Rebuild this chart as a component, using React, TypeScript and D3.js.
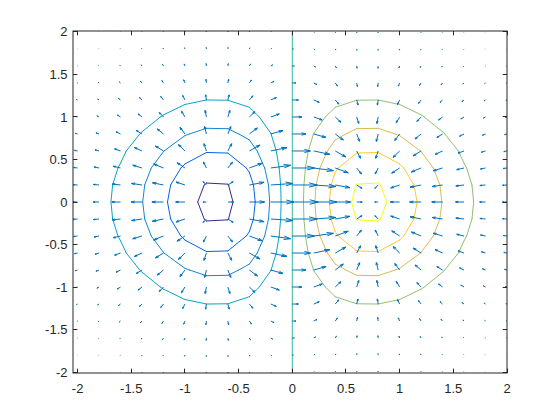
import React from 'react';
import * as d3 from 'd3';

// ---------- data ----------
// sampling grid (tenths, -2 .. 2 step 0.2), as in meshgrid(-2:.2:2)
const gridTenths = d3.range(-20, 21, 2);
const gridX = gridTenths.map((k) => k / 10);
const gridY = gridTenths.map((k) => k / 10);
const gridSpacing = 0.2;
// contour levels drawn
const levels = [-0.4, -0.3, -0.2, -0.1, 0, 0.1, 0.2, 0.3, 0.4];
// ticks
const xTicks = [-2, -1.5, -1, -0.5, 0, 0.5, 1, 1.5, 2];
const xTickLabels = ['-2', '-1.5', '-1', '-0.5', '0', '0.5', '1', '1.5', '2'];
const yTicks = [-2, -1.5, -1, -0.5, 0, 0.5, 1, 1.5, 2];
const yTickLabels = ['-2', '-1.5', '-1', '-0.5', '0', '0.5', '1', '1.5', '2'];

// surface z = x * exp(-x^2 - y^2)
const surface = (x: number, y: number) => x * Math.exp(-x * x - y * y);

// parula colormap (64 entries)
const parula: number[][] = [
  [0.2081, 0.1663, 0.5292], [0.2116, 0.1898, 0.5777], [0.2123, 0.2138, 0.627], [0.2081, 0.2386, 0.6771],
  [0.1959, 0.2645, 0.7279], [0.1707, 0.2919, 0.7792], [0.1253, 0.3242, 0.8303], [0.0591, 0.3598, 0.8683],
  [0.0117, 0.3875, 0.882], [0.006, 0.4086, 0.8828], [0.0165, 0.4266, 0.8786], [0.0329, 0.443, 0.872],
  [0.0498, 0.4586, 0.8641], [0.0629, 0.4737, 0.8554], [0.0723, 0.4887, 0.8467], [0.0779, 0.504, 0.8384],
  [0.0793, 0.52, 0.8312], [0.0749, 0.5375, 0.8263], [0.0641, 0.557, 0.824], [0.0488, 0.5772, 0.8228],
  [0.0343, 0.5966, 0.8199], [0.0265, 0.6137, 0.8135], [0.0239, 0.6287, 0.8038], [0.0231, 0.6418, 0.7913],
  [0.0228, 0.6535, 0.7768], [0.0267, 0.6642, 0.7607], [0.0384, 0.6743, 0.7436], [0.059, 0.6838, 0.7254],
  [0.0843, 0.6928, 0.7062], [0.1133, 0.7015, 0.6859], [0.1453, 0.7098, 0.6646], [0.1801, 0.7177, 0.6424],
  [0.2178, 0.725, 0.6193], [0.2586, 0.7317, 0.5954], [0.3022, 0.7376, 0.5712], [0.3482, 0.7424, 0.5473],
  [0.3953, 0.7459, 0.5244], [0.442, 0.7481, 0.5033], [0.4871, 0.7491, 0.484], [0.53, 0.7491, 0.4661],
  [0.5709, 0.7485, 0.4494], [0.6099, 0.7473, 0.4337], [0.6473, 0.7456, 0.4188], [0.6834, 0.7435, 0.4044],
  [0.7184, 0.7411, 0.3905], [0.7525, 0.7384, 0.3768], [0.7858, 0.7356, 0.3633], [0.8185, 0.7327, 0.3498],
  [0.8507, 0.7299, 0.336], [0.8824, 0.7274, 0.3217], [0.9139, 0.7258, 0.3063], [0.945, 0.7261, 0.2886],
  [0.9739, 0.7314, 0.2666], [0.9938, 0.7455, 0.2403], [0.999, 0.7653, 0.2164], [0.9955, 0.7861, 0.1967],
  [0.988, 0.8066, 0.1794], [0.9789, 0.8271, 0.1633], [0.9697, 0.8481, 0.1475], [0.9626, 0.8705, 0.1309],
  [0.9589, 0.8949, 0.1132], [0.9598, 0.9218, 0.0948], [0.9661, 0.9514, 0.0755], [0.9763, 0.9831, 0.0538],
];

// ---------- layout ----------
const W = 560;
const H = 420;
const left = 73;
const right = 507;
const top = 31;
const bottom = 373;
const quiverColor = '#0072BD';
const axisColor = '#262626';
const fontFamily = '"Liberation Sans", Arial, Helvetica, sans-serif';

// ---------- derived field ----------
const nx = gridX.length;
const ny = gridY.length;
const Z: number[][] = gridY.map((y) => gridX.map((x) => surface(x, y)));
const DX: number[][] = Z.map((row) =>
  row.map((_, i) =>
    i === 0 ? (row[1] - row[0]) / gridSpacing
      : i === nx - 1 ? (row[nx - 1] - row[nx - 2]) / gridSpacing
        : (row[i + 1] - row[i - 1]) / (2 * gridSpacing))
);
const DY: number[][] = Z.map((row, j) =>
  row.map((_, i) =>
    j === 0 ? (Z[1][i] - Z[0][i]) / gridSpacing
      : j === ny - 1 ? (Z[ny - 1][i] - Z[ny - 2][i]) / gridSpacing
        : (Z[j + 1][i] - Z[j - 1][i]) / (2 * gridSpacing))
);

// quiver autoscale (as MATLAB)
const delx = (d3.max(gridX)! - d3.min(gridX)!) / nx;
const dely = (d3.max(gridY)! - d3.min(gridY)!) / ny;
const del = delx * delx + dely * dely;
let maxLen = 0;
for (let j = 0; j < ny; j++) for (let i = 0; i < nx; i++) {
  const l = Math.sqrt((DX[j][i] ** 2 + DY[j][i] ** 2) / del);
  if (l > maxLen) maxLen = l;
}
const autoscale = 0.9 / maxLen;
const alpha = 0.33;
const beta = 0.33;

type Arrow = { shaft: number[][]; head: number[][] };
const arrows: Arrow[] = [];
for (let j = 0; j < ny; j++) for (let i = 0; i < nx; i++) {
  const x = gridX[i];
  const y = gridY[j];
  const u = DX[j][i] * autoscale;
  const v = DY[j][i] * autoscale;
  arrows.push({
    shaft: [[x, y], [x + u, y + v]],
    head: [
      [x + u - alpha * (u + beta * v), y + v - alpha * (v - beta * u)],
      [x + u, y + v],
      [x + u - alpha * (u - beta * v), y + v - alpha * (v + beta * u)],
    ],
  });
}
const allPts = arrows.flatMap((a) => [...a.shaft, ...a.head]);
const xDomain = [d3.min(allPts, (p) => p[0])!, d3.max(allPts, (p) => p[0])!];
const yDomain = [d3.min(allPts, (p) => p[1])!, d3.max(allPts, (p) => p[1])!];

const xScale = d3.scaleLinear().domain(xDomain).range([left, right]);
const yScale = d3.scaleLinear().domain(yDomain).range([bottom, top]);

// marching squares -> segments
function contourSegments(level: number): number[][][] {
  const segs: number[][][] = [];
  for (let j = 0; j < ny - 1; j++) {
    for (let i = 0; i < nx - 1; i++) {
      const c = [
        { x: gridX[i], y: gridY[j], z: Z[j][i] },
        { x: gridX[i + 1], y: gridY[j], z: Z[j][i + 1] },
        { x: gridX[i + 1], y: gridY[j + 1], z: Z[j + 1][i + 1] },
        { x: gridX[i], y: gridY[j + 1], z: Z[j + 1][i] },
      ];
      const pts: number[][] = [];
      for (let k = 0; k < 4; k++) {
        const a = c[k];
        const b = c[(k + 1) % 4];
        if ((a.z >= level) !== (b.z >= level)) {
          const t = (level - a.z) / (b.z - a.z);
          pts.push([a.x + t * (b.x - a.x), a.y + t * (b.y - a.y)]);
        }
      }
      if (pts.length === 2) segs.push([pts[0], pts[1]]);
      else if (pts.length === 4) {
        segs.push([pts[0], pts[1]]);
        segs.push([pts[2], pts[3]]);
      }
    }
  }
  return segs;
}

const levelColor = (lv: number) => {
  const lo = d3.min(levels)!;
  const hi = d3.max(levels)!;
  const idx = Math.min(63, Math.max(0, Math.floor(((lv - lo) / (hi - lo)) * 64)));
  const c = parula[idx];
  return d3.rgb(c[0] * 255, c[1] * 255, c[2] * 255).formatHex();
};

const tickLen = 4.34;
const px = (v: number) => Math.floor(v) + 0.5;

export default function App() {
  const contourPaths = levels.map((lv) => {
    const segs = contourSegments(lv);
    const d = segs
      .map((s) => `M${xScale(s[0][0])},${yScale(s[0][1])}L${xScale(s[1][0])},${yScale(s[1][1])}`)
      .join('');
    return { lv, d, color: levelColor(lv) };
  });

  const quiverD = arrows
    .map((a) => {
      const s = a.shaft.map((p) => `${xScale(p[0])},${yScale(p[1])}`);
      const h = a.head.map((p) => `${xScale(p[0])},${yScale(p[1])}`);
      return `M${s[0]}L${s[1]}M${h[0]}L${h[1]}L${h[2]}`;
    })
    .join('');

  return (
    <svg
      width={W}
      height={H}
      style={{ position: 'absolute', left: 0, top: 0, background: '#ffffff' }}
    >
      <rect x={0} y={0} width={W} height={H} fill="#ffffff" />
      <defs>
        <clipPath id="plotClip">
          <rect x={left} y={top} width={right - left} height={bottom - top} />
        </clipPath>
      </defs>
      <g clipPath="url(#plotClip)">
        {contourPaths.map((c) => (
          <path
            key={c.lv}
            d={c.d}
            fill="none"
            stroke={c.color}
            strokeWidth={1}
            strokeLinecap="round"
            strokeLinejoin="round"
          />
        ))}
        <path d={quiverD} fill="none" stroke={quiverColor} strokeWidth={1} strokeLinejoin="miter" />
      </g>
      {/* ticks */}
      <g stroke={axisColor} strokeWidth={1}>
        {xTicks.map((t) => {
          const x = px(xScale(t));
          return (
            <g key={`xt${t}`}>
              <line x1={x} x2={x} y1={bottom} y2={bottom - tickLen} />
              <line x1={x} x2={x} y1={top} y2={top + tickLen} />
            </g>
          );
        })}
        {yTicks.map((t) => {
          const y = px(yScale(t));
          return (
            <g key={`yt${t}`}>
              <line x1={left} x2={left + tickLen} y1={y} y2={y} />
              <line x1={right} x2={right - tickLen} y1={y} y2={y} />
            </g>
          );
        })}
      </g>
      {/* box */}
      <rect
        x={left}
        y={top}
        width={right - left}
        height={bottom - top}
        fill="none"
        stroke={axisColor}
        strokeWidth={1}
      />
      {/* labels */}
      <g fontFamily={fontFamily} fontSize={13} fill={axisColor}>
        {xTicks.map((t, k) => (
          <text key={`xl${t}`} x={xScale(t)} y={bottom + 19.5} textAnchor="middle">
            {xTickLabels[k]}
          </text>
        ))}
        {yTicks.map((t, k) => (
          <text key={`yl${t}`} x={left - 5.5} y={yScale(t)} dy="0.35em" textAnchor="end">
            {yTickLabels[k]}
          </text>
        ))}
      </g>
    </svg>
  );
}
